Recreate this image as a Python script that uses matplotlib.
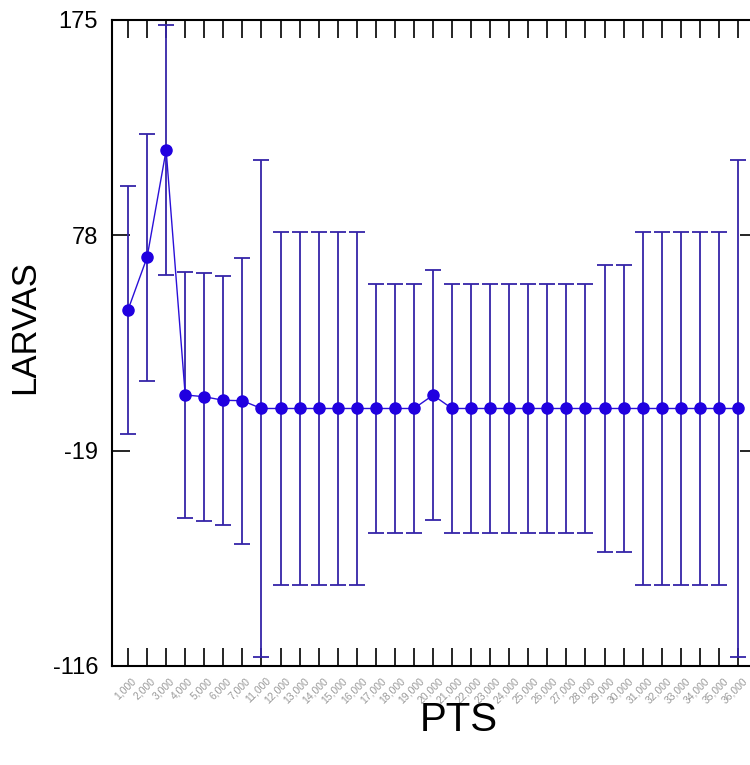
import matplotlib
matplotlib.use('Agg')
import matplotlib.pyplot as plt
import matplotlib.transforms as mtransforms
import numpy as np

plt.rcParams['font.family'] = ['Liberation Sans', 'DejaVu Sans']

pts_labels = ['1,000', '2,000', '3,000', '4,000', '5,000', '6,000', '7,000',
              '11,000', '12,000', '13,000', '14,000', '15,000', '16,000',
              '17,000', '18,000', '19,000', '20,000', '21,000', '22,000',
              '23,000', '24,000', '25,000', '26,000', '27,000', '28,000',
              '29,000', '30,000', '31,000', '32,000', '33,000', '34,000',
              '35,000', '36,000']
larvas_mean = [44.4, 68.1, 116.4, 6.1, 5.3, 3.7, 3.5,
               0, 0, 0, 0, 0, 0,
               0, 0, 0, 6.0, 0, 0,
               0, 0, 0, 0, 0, 0,
               0, 0, 0, 0, 0, 0,
               0, 0]
larvas_err = [55.8, 55.7, 56.3, 55.6, 55.9, 56.0, 64.4,
              112.0, 79.3, 79.3, 79.3, 79.3, 79.3,
              56.0, 56.0, 56.0, 56.3, 56.0, 56.0,
              56.0, 56.0, 56.0, 56.0, 56.0, 56.0,
              64.8, 64.8, 79.3, 79.3, 79.3, 79.3,
              79.3, 112.0]
y_ticks = [-116, -19, 78, 175]

W, H = 750, 765
fig = plt.figure(figsize=(W / 100, H / 100), dpi=100)
ax = fig.add_axes([112 / W, 1 - 666 / H, (758 - 112) / W, (666 - 20) / H])

x = np.arange(len(pts_labels))
ax.errorbar(x, larvas_mean, yerr=larvas_err, fmt='none', ecolor='#3524a8',
            elinewidth=1.3, capsize=6, capthick=1.3, zorder=2)
ax.plot(x, larvas_mean, color='#2a10d8', lw=1.0, marker='o', ms=8,
        mfc='#2000e0', mec='#2000e0', zorder=3)

ax.set_xlim(-0.84, len(pts_labels) - 1 + 1.05)
ax.set_ylim(-116, 175)
ax.set_yticks(y_ticks)
ax.set_yticklabels([str(v) for v in y_ticks], fontsize=17)
ax.set_xticks(x)
ax.set_xticklabels(pts_labels, rotation=45, ha='center', va='top',
                   fontsize=7.5, color='#9a9a9a')
ax.tick_params(axis='both', direction='in', length=13, width=1.2,
               top=True, right=True, color='black')
ax.tick_params(axis='y', pad=10)
ax.tick_params(axis='x', pad=7)
offset = mtransforms.ScaledTranslation(-3 / 100, 0, fig.dpi_scale_trans)
for lab in ax.get_xticklabels():
    lab.set_transform(lab.get_transform() + offset)
for s in ax.spines.values():
    s.set_linewidth(1.5)

fig.text(25 / W, 1 - 327 / H, 'LARVAS', rotation=90, fontsize=25,
         ha='center', va='center')
fig.text(459 / W, 1 - 720 / H, 'PTS', fontsize=29, ha='center', va='center')

fig.savefig('out.png', dpi=100)
